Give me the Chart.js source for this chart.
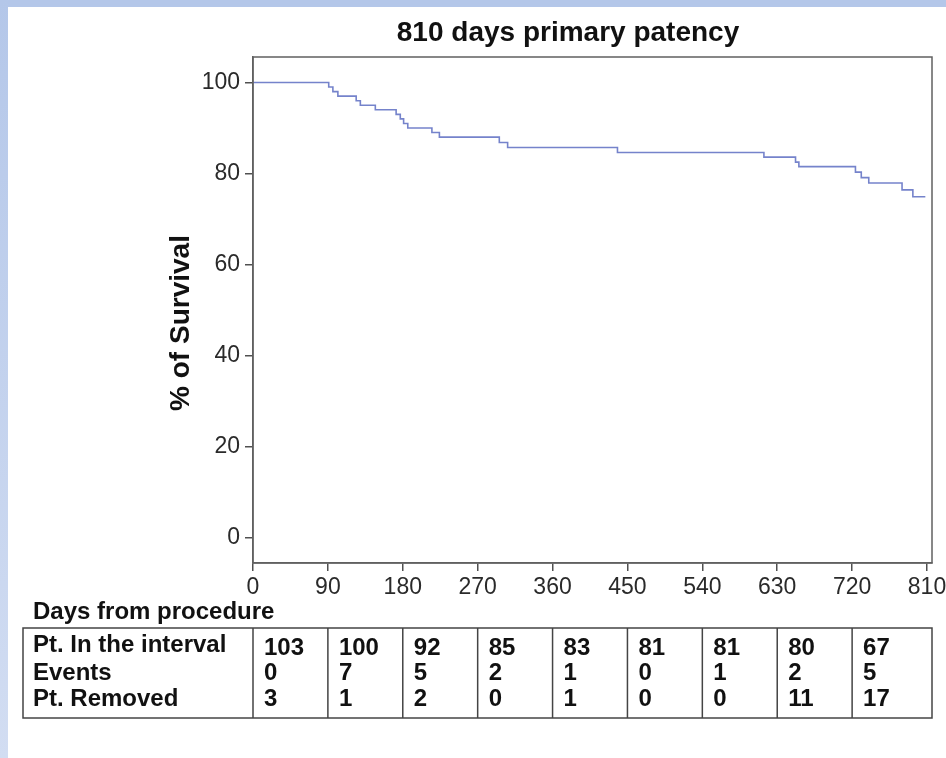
<!DOCTYPE html>
<html>
<head>
<meta charset="utf-8">
<script src="https://cdn.jsdelivr.net/npm/chart.js@4"></script>
<style>
  body { margin: 0; background: #fff; }
  canvas { display: block; }
</style>
</head>
<body>
<canvas id="km" width="946" height="758"></canvas>
<script>
// Kaplan-Meier steps (day, % surviving after that day)
const kmDays = [0, 91, 96, 102, 124, 129, 147, 172, 177, 181, 186, 215, 224, 296, 306, 438, 614, 652, 656, 724, 731, 740, 780, 793, 808];
const kmSurvival = [100, 99, 98, 97, 96, 95, 94, 93, 92, 91, 90, 89, 88, 86.8, 85.7, 84.6, 83.6, 82.5, 81.5, 80.3, 79.1, 77.9, 76.4, 74.9, 74.9];

const xTicks = [0, 90, 180, 270, 360, 450, 540, 630, 720, 810];
const yTicks = [0, 20, 40, 60, 80, 100];

// risk table, one value per 90 day interval
const intervalStarts = [0, 90, 180, 270, 360, 450, 540, 630, 720];
const ptInInterval = [103, 100, 92, 85, 83, 81, 81, 80, 67];
const events = [0, 7, 5, 2, 1, 0, 1, 2, 5];
const ptRemoved = [3, 1, 2, 0, 1, 0, 0, 11, 17];
const rowLabels = ['Pt. In the interval', 'Events', 'Pt. Removed'];

const FONT = "'Liberation Sans', Arial, Helvetica, sans-serif";

let points = kmDays.map((d, i) => ({ x: d, y: kmSurvival[i] }));

// blue page edge, frame, title, axis title, table
let extras = {
  id: 'extras',
  beforeDraw(chart) {
    let ctx = chart.ctx;
    ctx.save();
    ctx.fillStyle = '#fff';
    ctx.fillRect(0, 0, chart.width, chart.height);
    ctx.fillStyle = '#b4c7e9';
    ctx.fillRect(0, 0, chart.width, 7);
    let g = ctx.createLinearGradient(0, 0, 0, chart.height);
    g.addColorStop(0, '#b4c7e9');
    g.addColorStop(1, '#d2ddf2');
    ctx.fillStyle = g;
    ctx.fillRect(0, 0, 8, chart.height);
    ctx.restore();
  },
  afterDraw(chart) {
    let ctx = chart.ctx;
    let a = chart.chartArea;
    let x = chart.scales.x;
    ctx.save();
    ctx.strokeStyle = '#606060';
    ctx.lineWidth = 1.5;
    ctx.strokeRect(a.left, a.top, a.right - a.left, a.bottom - a.top);

    ctx.fillStyle = '#111';
    ctx.textAlign = 'center';
    ctx.textBaseline = 'alphabetic';
    ctx.font = 'bold 28px ' + FONT;
    ctx.fillText('810 days primary patency', 568, 41);

    ctx.save();
    ctx.translate(189, 323);
    ctx.rotate(-Math.PI / 2);
    ctx.fillText('% of Survival', 0, 0);
    ctx.restore();

    ctx.textAlign = 'left';
    ctx.font = 'bold 24px ' + FONT;
    ctx.fillText('Days from procedure', 33, 619);

    // table
    let top = 628, bottom = 718, left = 23;
    ctx.strokeStyle = '#444';
    ctx.lineWidth = 1.5;
    ctx.strokeRect(left, top, a.right - left, bottom - top);
    ctx.beginPath();
    intervalStarts.forEach(d => {
      let px = x.getPixelForValue(d);
      ctx.moveTo(px, top);
      ctx.lineTo(px, bottom);
    });
    ctx.stroke();

    ctx.fillText(rowLabels[0], 33, 652);
    ctx.fillText(rowLabels[1], 33, 680);
    ctx.fillText(rowLabels[2], 33, 706);
    intervalStarts.forEach((d, i) => {
      let px = x.getPixelForValue(d) + 11;
      ctx.fillText(String(ptInInterval[i]), px, 655);
      ctx.fillText(String(events[i]), px, 680);
      ctx.fillText(String(ptRemoved[i]), px, 706);
    });
    ctx.restore();
  }
};

let config = {
  type: 'line',
  data: {
    datasets: [{
      data: points,
      stepped: true,
      borderColor: '#7583cb',
      borderWidth: 1.6,
      pointRadius: 0,
      fill: false
    }]
  },
  options: {
    responsive: false,
    animation: false,
    layout: {
      padding: { top: 57, right: 14, bottom: 155, left: 0 }
    },
    plugins: {
      legend: { display: false },
      title: { display: false },
      tooltip: { enabled: false }
    },
    scales: {
      x: {
        type: 'linear',
        min: 0,
        max: 816,
        afterBuildTicks: s => { s.ticks = xTicks.map(v => ({ value: v })); },
        afterFit: s => { s.height = 40; s.paddingLeft = 0; s.paddingRight = 0; },
        grid: { drawOnChartArea: false, drawTicks: true, tickLength: 8, color: '#505050', lineWidth: 1.5 },
        border: { display: true, color: '#606060', width: 1.5 },
        ticks: { color: '#2a2a2a', padding: 3, maxRotation: 0, font: { family: FONT, size: 23 } }
      },
      y: {
        min: -5.6,
        max: 105.6,
        afterBuildTicks: s => { s.ticks = yTicks.map(v => ({ value: v })); },
        afterFit: s => { s.width = 253; },
        grid: { drawOnChartArea: false, drawTicks: true, tickLength: 8, color: '#505050', lineWidth: 1.5 },
        border: { display: true, color: '#606060', width: 1.5 },
        ticks: { color: '#2a2a2a', padding: 5, font: { family: FONT, size: 23 } }
      }
    }
  },
  plugins: [extras]
};

var ctx = document.getElementById('km').getContext('2d');
let kmChart = new Chart(ctx, config);
</script>
</body>
</html>
